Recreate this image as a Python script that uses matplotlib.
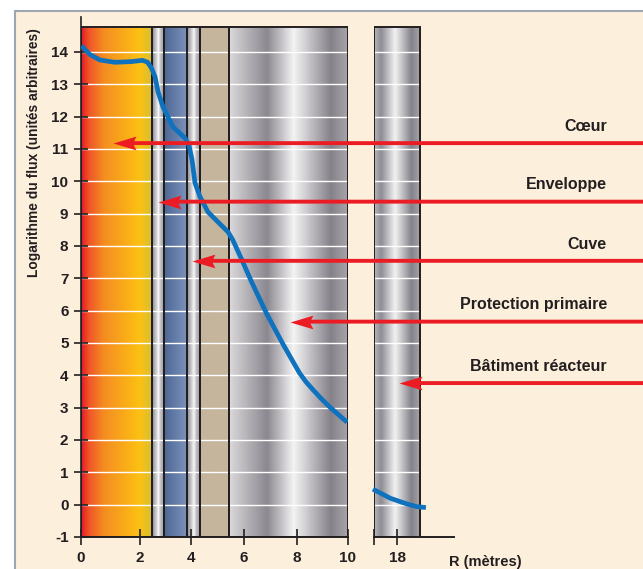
import numpy as np
import matplotlib
matplotlib.use("Agg")
import matplotlib.pyplot as plt
from matplotlib.colors import LinearSegmentedColormap
from matplotlib.patches import Rectangle, ConnectionPatch
from matplotlib.path import Path
import matplotlib.transforms as mtransforms

plt.rcParams['font.family'] = ['Liberation Sans', 'DejaVu Sans']
plt.rcParams['font.weight'] = 'bold'

# ---------------- data ----------------
y_ticks = list(range(-1, 15))
x_ticks_main = [0, 2, 4, 6, 8, 10]
x_tick_labels_main = ['0', '2', '4', '6', '8', '10']
# the original drawing's radial axis is not perfectly uniform
axis_knots_m = [0, 2, 4, 6, 8, 10]
axis_knots_screen = [0, 59, 110, 163, 216, 267]

# layer boundaries (m)
layer_edges = [0, 2.48, 2.95, 3.84, 4.34, 5.43, 10]
building_span = (17.13, 18.87)

# flux curve (log, arbitrary units)
flux_r = [0.02, 0.3, 0.64, 1.15, 1.7, 2.1, 2.3, 2.45, 2.59, 2.71, 2.90, 3.29, 3.76,
          3.92, 4.04, 4.15, 4.34, 4.64, 5.02, 5.40, 5.58, 5.92, 6.28, 6.87, 7.48,
          7.85, 8.10, 8.35, 8.62, 8.95, 9.27, 9.96]
flux_log = [14.19, 13.92, 13.75, 13.68, 13.70, 13.74, 13.68, 13.50, 13.23, 12.76,
            12.30, 11.68, 11.34, 11.12, 10.66, 9.95, 9.52, 9.05, 8.74, 8.43, 8.18,
            7.57, 6.90, 5.88, 4.95, 4.42, 4.07, 3.80, 3.56, 3.28, 3.03, 2.55]
flux_r_building = [17.09, 17.74, 18.38, 18.74, 19.09]
flux_log_building = [0.48, 0.20, 0.02, -0.06, -0.09]

arrow_labels = ['Cœur', 'Enveloppe', 'Cuve', 'Protection primaire', 'Bâtiment réacteur']
arrow_tip_r = [1.08, 2.71, 4.04, 7.74, 18.08]
arrow_level = [11.18, 9.37, 7.54, 5.66, 3.76]

y_top_panel = 14.77
y_min, y_max = -1, 15.08

# ---------------- styles ----------------
cream = '#FCEFDB'
dark = '#231F20'
red = '#EC1C24'
blue = '#0F72BE'

core_cmap = LinearSegmentedColormap.from_list('core', [
    (0.0, '#E31B2B'), (0.1, '#EF5527'), (0.3, '#F48C22'), (0.6, '#FAAC19'),
    (0.8, '#FDC112'), (1.0, '#D3BE35')])
stripe_cmap = LinearSegmentedColormap.from_list('stripe', [
    (0.0, '#8E8E96'), (0.3, '#CACACE'), (0.5, '#F6F6F6'), (0.7, '#BCBCC0'), (1.0, '#92929A')])
blue_cmap = LinearSegmentedColormap.from_list('blue', [
    (0.0, '#4D6795'), (1.0, '#7D92BA')])
tan_cmap = LinearSegmentedColormap.from_list('tan', ['#C5B59C', '#C5B59C'])
steel_cmap = LinearSegmentedColormap.from_list('steel', [
    (0.0, '#DAD8DA'), (0.31, '#8C8890'), (0.53, '#F3F3F3'), (0.85, '#85818A'), (1.0, '#A9A7AB')])
steel2_cmap = LinearSegmentedColormap.from_list('steel2', [
    (0.0, '#B8B8BC'), (0.15, '#8E8C94'), (0.45, '#F2F2F2'), (0.8, '#84828A'), (1.0, '#A8A8AC')])
layer_cmaps = [core_cmap, stripe_cmap, blue_cmap, stripe_cmap, tan_cmap, steel_cmap]

W, H = 643, 569
fig = plt.figure(figsize=(W / 100, H / 100), dpi=100)
fig.patch.set_facecolor('white')
fig.patches.append(Rectangle((15 / W, -0.01), 1 - 15 / W + 0.01, (H - 11) / H + 0.01,
                             transform=fig.transFigure, facecolor=cream,
                             edgecolor='#9EA7AF', lw=1.5, zorder=-10))

bottom = (H - 537) / H
height = (537 - 17) / H
ax1 = fig.add_axes([81 / W, bottom, (348 - 81) / W, height])
ax2 = fig.add_axes([374 / W, bottom, (454 - 374) / W, height])

def fwd(x):
    return np.interp(x, axis_knots_m, axis_knots_screen)

def inv(x):
    return np.interp(x, axis_knots_screen, axis_knots_m)

ax1.set_xscale('function', functions=(fwd, inv))
ax1.set_xlim(0, 10)
ax2.set_xlim(17.13, 20.15)
for ax in (ax1, ax2):
    ax.set_ylim(y_min, y_max)
    ax.patch.set_alpha(0)
    ax.spines['top'].set_visible(False)
    ax.spines['right'].set_visible(False)
    ax.spines['bottom'].set_color(dark)
    ax.spines['bottom'].set_linewidth(1.4)
    ax.spines['left'].set_color(dark)
    ax.spines['left'].set_linewidth(1.2)
ax2.spines['left'].set_visible(False)

grad = np.linspace(0, 1, 256)[None, :]
# layers
for i in range(len(layer_edges) - 1):
    x0, x1 = layer_edges[i], layer_edges[i + 1]
    ax1.imshow(grad, cmap=layer_cmaps[i], extent=(x0, x1, y_min, y_top_panel),
               aspect='auto', interpolation='bilinear', zorder=0)
    ax1.add_patch(Rectangle((x0, y_min), x1 - x0, y_top_panel - y_min, fill=False,
                            edgecolor=dark, lw=1.4, zorder=2))
b0, b1 = building_span
ax2.imshow(grad, cmap=steel2_cmap, extent=(b0, b1, y_min, y_top_panel),
           aspect='auto', interpolation='bilinear', zorder=0)
ax2.add_patch(Rectangle((b0, y_min), b1 - b0, y_top_panel - y_min, fill=False,
                        edgecolor=dark, lw=1.4, zorder=2))

# white grid lines
for yv in y_ticks[1:]:
    ax1.plot([0, 10], [yv, yv], color='white', lw=1.0, zorder=1.5)
    ax2.plot([b0, b1], [yv, yv], color='white', lw=1.0, zorder=1.5)

# flux curve
ax1.plot(flux_r, flux_log, color=blue, lw=3.4, solid_joinstyle='round',
         solid_capstyle='butt', zorder=3)
ax2.plot(flux_r_building, flux_log_building, color=blue, lw=3.4,
         solid_joinstyle='round', solid_capstyle='butt', zorder=3, clip_on=False)

# ticks
ax1.set_yticks(y_ticks)
ax1.set_yticklabels([str(v) for v in y_ticks])
ax1.set_xticks(x_ticks_main)
ax1.set_xticklabels(x_tick_labels_main)
ax1.tick_params(axis='y', direction='inout', length=10, width=1.2, color=dark,
                labelsize=11, labelcolor=dark, pad=4)
ax1.tick_params(axis='x', direction='inout', length=12, width=1.2, color=dark,
                labelsize=11, labelcolor=dark, pad=4)
ax1.xaxis.set_minor_locator(matplotlib.ticker.NullLocator())
ax2.set_yticks([])
ax2.set_xticks([17.14, 18])
ax2.set_xticklabels(['', '18'])
ax2.tick_params(axis='x', direction='inout', length=12, width=1.2, color=dark,
                labelsize=11, labelcolor=dark, pad=4)

ax1.set_ylabel('Logarithme du flux (unités arbitraires)', fontsize=9.9,
               fontweight='bold', color=dark)
ax1.yaxis.set_label_coords(-0.175, 0.74)
ax1.yaxis.label.set_va('center')

ax2.set_xlabel('R (mètres)', fontsize=10.5, fontweight='bold', color=dark)
ax2.xaxis.set_label_coords(1.39, -0.034)

# arrows
head = Path([(0, 0), (1, 0.3), (0.85, 0), (1, -0.3), (0, 0)],
            [Path.MOVETO, Path.LINETO, Path.LINETO, Path.LINETO, Path.CLOSEPOLY])
for lab, xr, yl in zip(arrow_labels, arrow_tip_r, arrow_level):
    ax = ax1 if xr <= 10 else ax2
    start_tr = mtransforms.blended_transform_factory(fig.transFigure, ax.transData)
    con = ConnectionPatch(xyA=(1.0, yl), coordsA=start_tr, xyB=(xr, yl),
                          coordsB=ax.transData, color=red, lw=2.8, zorder=6,
                          shrinkA=0, shrinkB=11)
    fig.add_artist(con)
    ax.plot([xr], [yl], marker=head, ms=33, color=red, mew=0, zorder=7,
            clip_on=False)
    text_tr = mtransforms.blended_transform_factory(fig.transFigure, ax.transData)
    ax.annotate(lab, xy=(607 / W, yl), xycoords=text_tr, xytext=(0, 12),
                textcoords='offset points', ha='right', va='center',
                fontsize=11.5, fontweight='bold', color=dark,
                annotation_clip=False)

fig.savefig('out.png', dpi=100, facecolor=fig.get_facecolor())
